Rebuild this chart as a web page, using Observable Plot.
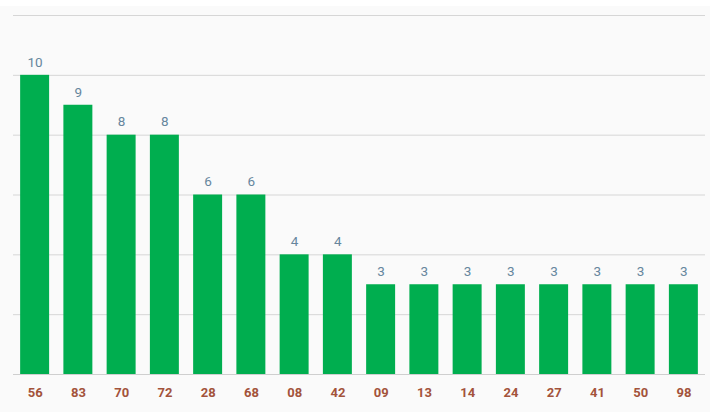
<!DOCTYPE html>
<html>
<head>
<meta charset="utf-8">
<script src="https://cdn.jsdelivr.net/npm/d3@7"></script>
<script src="https://cdn.jsdelivr.net/npm/@observablehq/plot@0.6"></script>
<style>
  html, body { margin: 0; padding: 0; background: #ffffff; }
  #chart { position: absolute; left: 0; top: 6px; width: 710px; height: 406px; background: #fafafa; }
  #chart svg { background: transparent; display: block; }
</style>
</head>
<body>
<div id="chart"></div>
<script>
const categories = ["56","83","70","72","28","68","08","42","09","13","14","24","27","41","50","98"];
const counts = [10, 9, 8, 8, 6, 6, 4, 4, 3, 3, 3, 3, 3, 3, 3, 3];
const yTicks = [0, 2, 4, 6, 8, 10, 12];

const data = categories.map((c, i) => ({cat: c, value: counts[i]}));

const chart = Plot.plot({
  width: 710,
  height: 406,
  marginTop: 9,
  marginBottom: 38,
  marginLeft: 13,
  marginRight: 5,
  style: {fontFamily: "Roboto, sans-serif", background: "transparent"},
  x: {domain: categories, paddingInner: 0.33, paddingOuter: 0.165, round: false, label: null},
  y: {domain: [0, 12], label: null},
  marks: [
    Plot.gridY(yTicks.filter(d => d > 0), {stroke: "#d6d6d6", strokeOpacity: 1}),
    Plot.ruleY([0], {stroke: "#cfcfcf"}),
    Plot.barY(data, {x: "cat", y: "value", fill: "#00ae4f"}),
    Plot.text(data, {x: "cat", y: "value", text: d => String(d.value), dy: -13, fill: "#66869d", fontSize: 13.5}),
    Plot.axisX({tickSize: 0, tickPadding: 13, fontSize: 13, fontWeight: "bold", fill: "#a3533b", label: null}),
    Plot.axisY({ticks: [], label: null})
  ]
});
document.getElementById("chart").appendChild(chart);
</script>
</body>
</html>
